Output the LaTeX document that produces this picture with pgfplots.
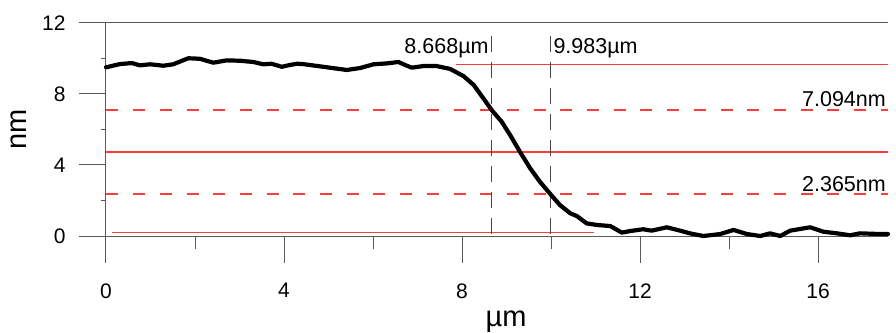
\documentclass[border=0pt]{standalone}
\usepackage{fontspec}
\setmainfont{Liberation Sans}
\usepackage{pgfplots}
\pgfplotsset{compat=1.18}
\definecolor{lred}{RGB}{255,60,60}
\definecolor{axg}{RGB}{90,90,90}
\definecolor{dg}{RGB}{70,70,70}
\begin{document}
\begin{tikzpicture}
\useasboundingbox (-106bp,-97bp) rectangle (790bp,236bp);
\begin{axis}[
  at={(0,0)}, anchor=south west,
  scale only axis, width=782bp, height=213.3bp,
  xmin=0, xmax=17.57, ymin=0, ymax=12,
  axis x line*=bottom, axis y line*=left,
  axis line style={axg, line width=1bp},
  tick align=outside,
  xtick={0,4,8,12,16}, ytick={0,4,8,12},
  minor xtick={2,6,10,14},
  major tick length=27bp, minor tick length=13bp,
  tick style={axg, line width=1bp},
  /pgf/number format/assume math mode=true,
  every x tick label/.append style={font=\fontsize{21bp}{25bp}\selectfont, yshift=-17bp},
  every y tick label/.append style={font=\fontsize{21bp}{25bp}\selectfont, xshift=-10bp},
  xlabel={µm}, ylabel={nm},
  every axis x label/.style={at={([xshift=9bp,yshift=-90bp]rel axis cs:0.5,0)}, anchor=base},
  every axis y label/.style={at={([xshift=-87bp]rel axis cs:0,0.5)}, anchor=center, rotate=90},
  label style={font=\fontsize{29bp}{34bp}\selectfont},
  clip=false,
]
% frame top line and y minor ticks
\draw[axg, line width=1bp] (rel axis cs:0,1) -- (rel axis cs:1,1);
\draw[axg, line width=1bp] (axis cs:0,2) -- ++(-5bp,0);
\draw[axg, line width=1bp] (axis cs:0,6) -- ++(-5bp,0);
\draw[axg, line width=1bp] (axis cs:0,10) -- ++(-5bp,0);
% red reference lines
\addplot[draw=lred, line width=1.2bp] coordinates {(7.87,9.66) (17.57,9.66)};
\addplot[draw=lred, line width=1.2bp, dash pattern=on 12bp off 14.7bp] coordinates {(0.01,7.094) (17.57,7.094)};
\addplot[draw=lred, line width=1.2bp] coordinates {(0.01,4.73) (17.57,4.73)};
\addplot[draw=lred, line width=1.2bp, dash pattern=on 12bp off 14.7bp] coordinates {(0.01,2.365) (17.57,2.365)};
\addplot[draw=lred, line width=1.2bp] coordinates {(0.13,0.19) (10.97,0.19)};
% vertical markers
\addplot[draw=dg, line width=1bp, dash pattern=on 16bp off 10bp] coordinates {(8.668,11.25) (8.668,0)};
\addplot[draw=dg, line width=1bp, dash pattern=on 16bp off 10bp] coordinates {(9.983,11.25) (9.983,0)};
% profile
\addplot[black, line width=4.2bp, line join=round, line cap=round] coordinates {
(0,9.49) (0.31,9.67) (0.58,9.73) (0.76,9.60) (0.99,9.66) (1.29,9.58) (1.51,9.66)
(1.85,10.00) (2.11,9.97) (2.41,9.75) (2.71,9.88) (3.01,9.86) (3.31,9.79) (3.53,9.66)
(3.72,9.69) (3.95,9.52) (4.13,9.62) (4.29,9.69) (4.43,9.67) (4.88,9.52) (5.41,9.34)
(5.71,9.45) (6.01,9.66) (6.31,9.71) (6.57,9.79) (6.72,9.62) (6.87,9.47) (7.13,9.56)
(7.43,9.56) (7.73,9.40) (8.03,9.00) (8.26,8.50) (8.48,7.74) (8.67,7.07) (8.89,6.43)
(9.08,5.68) (9.30,4.74) (9.53,3.81) (9.75,3.05) (9.99,2.34) (10.20,1.74) (10.43,1.28)
(10.58,1.12) (10.80,0.71) (11.03,0.62) (11.33,0.56) (11.59,0.19) (11.78,0.28)
(12.07,0.38) (12.26,0.30) (12.60,0.49) (12.90,0.30) (13.12,0.15) (13.42,0.00)
(13.80,0.11) (14.10,0.34) (14.40,0.11) (14.70,0.00) (14.92,0.15) (15.15,0.00)
(15.37,0.30) (15.82,0.49) (16.12,0.24) (16.42,0.15) (16.72,0.04) (16.94,0.15)
(17.39,0.11) (17.57,0.11)};
% annotations
\node[anchor=base east, font=\fontsize{21.5bp}{25bp}\selectfont, inner sep=0pt] at ([xshift=-3bp]axis cs:8.668,10.28) {8.668µm};
\node[anchor=base west, font=\fontsize{21.5bp}{25bp}\selectfont, inner sep=0pt] at ([xshift=3bp]axis cs:9.983,10.28) {9.983µm};
\node[anchor=base east, font=\fontsize{21.5bp}{25bp}\selectfont, inner sep=0pt] at ([xshift=-2bp]axis cs:17.57,7.31) {7.094nm};
\node[anchor=base east, font=\fontsize{21.5bp}{25bp}\selectfont, inner sep=0pt] at ([xshift=-2bp]axis cs:17.57,2.53) {2.365nm};
\end{axis}
\end{tikzpicture}
\end{document}
